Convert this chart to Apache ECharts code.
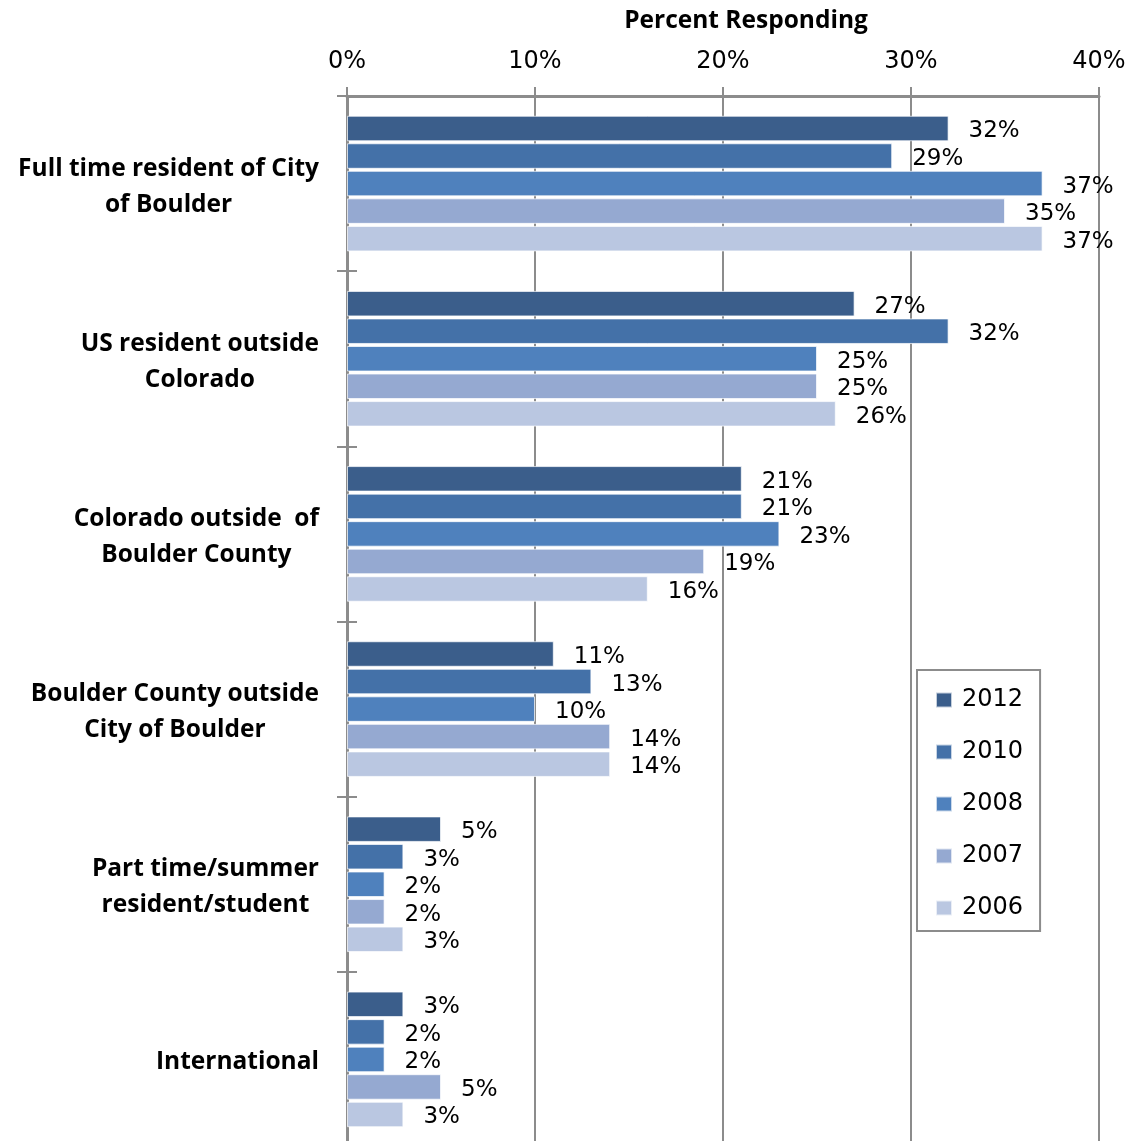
<!DOCTYPE html>
<html>
<head>
<meta charset="utf-8">
<script src="https://cdn.jsdelivr.net/npm/echarts@6/dist/echarts.min.js"></script>
<style>html,body{margin:0;padding:0;background:#fff;}#chart{width:1131px;height:1141px;}</style>
</head>
<body>
<div id="chart"></div>
<script>
const categories = [
  'Full time resident of City\nof Boulder',
  'US resident outside\nColorado',
  'Colorado outside  of\nBoulder County',
  'Boulder County outside\nCity of Boulder',
  'Part time/summer\nresident/student',
  'International'
];
const seriesNames = ['2012', '2010', '2008', '2007', '2006'];
const s2012 = [32, 27, 21, 11, 5, 3];
const s2010 = [29, 32, 21, 13, 3, 2];
const s2008 = [37, 25, 23, 10, 2, 2];
const s2007 = [35, 25, 19, 14, 2, 5];
const s2006 = [37, 26, 16, 14, 3, 3];
const seriesValues = [s2012, s2010, s2008, s2007, s2006];
const colors = ['#3B5E8B', '#4471A8', '#4F81BD', '#95A9D1', '#BAC7E1'];
const axisTitle = 'Percent Responding';

const chart = echarts.init(document.getElementById('chart'), null, {renderer: 'canvas'});
chart.setOption({
  animation: false,
  backgroundColor: '#fff',
  color: colors,
  title: {
    text: axisTitle,
    left: 741, top: 4, textAlign: 'center',
    textStyle: {fontFamily: 'Open Sans', fontWeight: 'bold', fontSize: 24.5, color: '#000'}
  },
  legend: {
    orient: 'vertical',
    left: 917, top: 670,
    data: seriesNames,
    itemWidth: 16, itemHeight: 15,
    itemGap: 28,
    padding: [18, 17, 11, 18],
    borderColor: '#8c8c8c', borderWidth: 2,
    textStyle: {fontFamily: 'DejaVu Sans', fontSize: 24, color: '#000', padding: [0, 0, 0, 5]},
    icon: 'rect'
  },
  grid: {left: 347, width: 752, top: 96, height: 1051, containLabel: false, outerBoundsMode: 'none'},
  xAxis: {
    type: 'value', position: 'top', min: 0, max: 40, interval: 10,
    axisLine: {show: true, lineStyle: {color: '#8c8c8c', width: 3}},
    axisTick: {show: true, length: 9, lineStyle: {color: '#8c8c8c', width: 2}},
    splitLine: {show: true, lineStyle: {color: '#8c8c8c', width: 2}},
    axisLabel: {formatter: '{value}%', fontFamily: 'DejaVu Sans', fontSize: 24, color: '#000', margin: 22}
  },
  yAxis: [{
    type: 'category', inverse: true, data: categories,
    axisLine: {show: true, lineStyle: {color: '#8c8c8c', width: 3}},
    axisTick: {show: true, length: 10, lineStyle: {color: '#8c8c8c', width: 2}},
    axisLabel: {
      margin: 28,
      padding: [6, 0, 0, 0],
      formatter: function (v) { return v.split('\n').map(l => '{c|' + l + '}').join('\n'); },
      rich: {c: {align: 'center', fontFamily: 'Open Sans', fontWeight: 'bold', fontSize: 24.5, lineHeight: 36, color: '#000'}}
    }
  }, {
    type: 'category', inverse: true, data: categories, position: 'left',
    axisLine: {show: false},
    axisTick: {show: true, inside: true, length: 10, lineStyle: {color: '#8c8c8c', width: 2}},
    axisLabel: {show: false}
  }],
  series: seriesNames.map((name, i) => ({
    name: name,
    type: 'bar',
    data: seriesValues[i],
    barWidth: 25.5,
    barGap: '8%',
    itemStyle: {color: colors[i], borderColor: 'rgba(255,255,255,0.7)', borderWidth: 1},
    label: {
      show: true, position: 'right', distance: 20, offset: [0, 3],
      formatter: p => p.value + '%',
      fontFamily: 'DejaVu Sans', fontSize: 23, color: '#000'
    }
  }))
});
</script>
</body>
</html>
